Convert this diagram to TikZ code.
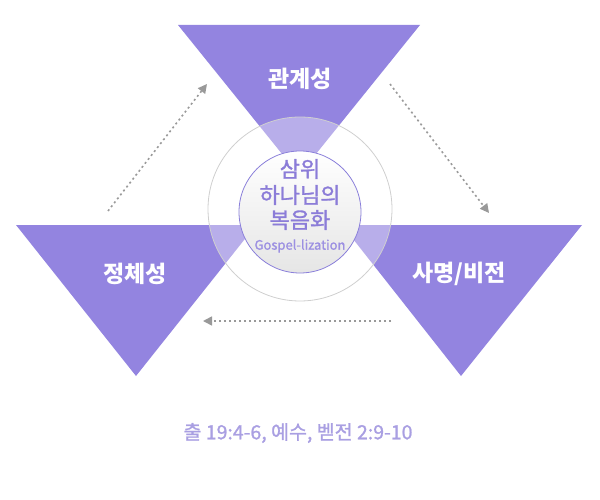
\documentclass[tikz,border=0pt]{standalone}
\usepackage{fontspec}
\setmainfont{Noto Sans CJK KR}
\newfontfamily\medfont{Noto Sans CJK KR}[FakeBold=1.2]
\usetikzlibrary{arrows.meta}
\definecolor{tri}{HTML}{9384E0}
\definecolor{ctext}{HTML}{8B7CD8}
\definecolor{gtext}{HTML}{9C90E2}
\definecolor{btext}{HTML}{A99FE2}
\definecolor{ring}{HTML}{CFCFCF}
\definecolor{innerline}{HTML}{8A7FDA}
\definecolor{arr}{HTML}{999999}
\tikzset{
  tribox/.style={fill=tri, draw=none},
  trilabel/.style={text=white, font=\bfseries\fontsize{23}{26}\selectfont, inner sep=0pt},
  flow/.style={draw=arr, line width=1.6pt, dash pattern=on 2pt off 3pt, -{Triangle[length=9pt,width=9pt]}},
  ctr/.style={text=ctext, font=\medfont\fontsize{22}{26}\selectfont, inner sep=0pt}
}
\begin{document}
\begin{tikzpicture}[x=1pt,y=-1pt]
\useasboundingbox (0,0) rectangle (600,500);
% triangles
\path[tribox] (178,25) -- (420,25) -- (299,175) -- cycle;
\path[tribox] (16,225) -- (256,225) -- (136,376) -- cycle;
\path[tribox] (342,225) -- (582,225) -- (461,376) -- cycle;
% outer ring
\node[circle, minimum size=184pt, draw=ring, line width=0.8pt, fill=white, fill opacity=0.35, draw opacity=1] (outer) at (300,209) {};
% inner circle
\node[circle, minimum size=122pt, draw=innerline, line width=0.8pt, top color=white, bottom color=black!10, shading angle=0] (inner) at (300,212) {};
% labels
\node[trilabel] (t1) at (300,79) {관계성};
\node[trilabel] (t2) at (135,274) {정체성};
\node[trilabel] (t3) at (459,274) {사명/비전};
\node[ctr] (c1) at (300,169) {삼위};
\node[ctr] (c2) at (300,195) {하나님의};
\node[ctr] (c3) at (300,220) {복음화};
\node[text=gtext, font=\medfont\fontsize{13}{15}\selectfont, inner sep=0pt] (c4) at (300,246) {Gospel-lization};
\node[text=btext, font=\medfont\fontsize{19.5}{21}\selectfont, inner sep=0pt] (ref) at (298,433) {출 19:4-6, 예수, 벧전 2:9-10};
% arrows
\coordinate (a1s) at (108,211);
\coordinate (a1e) at (207,84);
\coordinate (a2s) at (390,84);
\coordinate (a2e) at (489,213);
\coordinate (a3s) at (391,321);
\coordinate (a3e) at (203,321);
\draw[flow] (a1s) -- (a1e);
\draw[flow] (a2s) -- (a2e);
\draw[flow] (a3s) -- (a3e);
\end{tikzpicture}
\end{document}
